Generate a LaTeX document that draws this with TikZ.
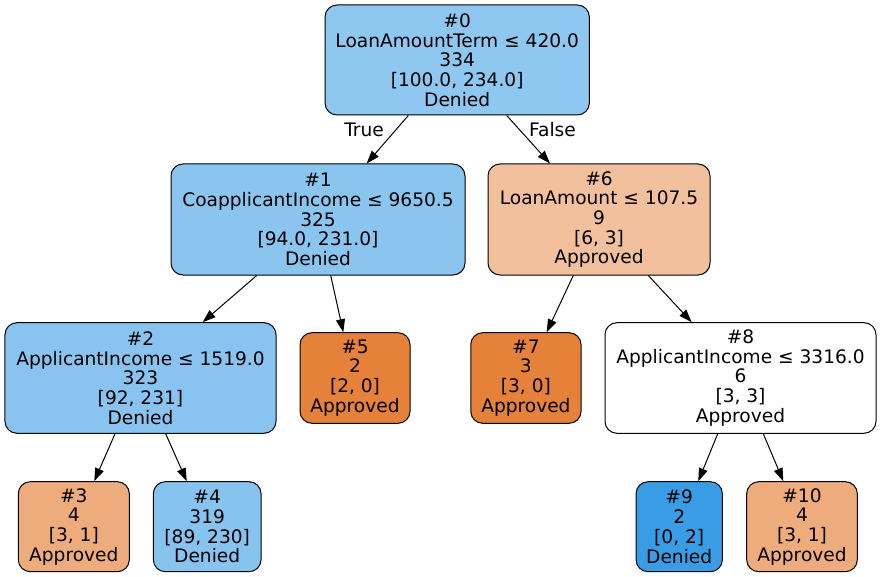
\documentclass[tikz,border=0pt]{standalone}
\usepackage{fontspec}
\setmainfont{DejaVu Sans}
\usetikzlibrary{arrows.meta}
\definecolor{cA}{RGB}{142,199,240}
\definecolor{cB}{RGB}{138,197,240}
\definecolor{cC}{RGB}{136,196,239}
\definecolor{cD}{RGB}{134,195,239}
\definecolor{cE}{RGB}{242,192,156}
\definecolor{cF}{RGB}{238,171,123}
\definecolor{cOr}{RGB}{229,129,57}
\definecolor{cBl}{RGB}{57,157,229}
\tikzset{
  treenode/.style={draw=black, line width=1bp, rounded corners=12bp, inner sep=0pt,
    align=center, font=\fontsize{18.6bp}{19.7bp}\selectfont},
  edgelbl/.style={inner sep=0pt, font=\fontsize{18.6bp}{19.7bp}\selectfont},
  treeedge/.style={line width=1bp, -{Triangle[length=13bp,width=9bp]}}
}
\begin{document}
\begin{tikzpicture}[x=1bp,y=-1bp]
\useasboundingbox (0,0) rectangle (881,577);
\node[treenode, fill=cA, minimum width=264.3bp, minimum height=110bp] (n0) at (457.2,60)
  {\#0\\LoanAmountTerm ≤ 420.0\\334\\{[}100.0, 234.0{]}\\Denied};
\node[treenode, fill=cB, minimum width=294bp, minimum height=111bp] (n1) at (318,219.5)
  {\#1\\CoapplicantIncome ≤ 9650.5\\325\\{[}94.0, 231.0{]}\\Denied};
\node[treenode, fill=cE, minimum width=222bp, minimum height=111bp] (n6) at (599,219.5)
  {\#6\\LoanAmount ≤ 107.5\\9\\{[}6, 3{]}\\Approved};
\node[treenode, fill=cC, minimum width=271bp, minimum height=110.6bp] (n2) at (140.5,378)
  {\#2\\ApplicantIncome ≤ 1519.0\\323\\{[}92, 231{]}\\Denied};
\node[treenode, fill=cOr, minimum width=110bp, minimum height=90.6bp] (n5) at (355,378)
  {\#5\\2\\{[}2, 0{]}\\Approved};
\node[treenode, fill=cOr, minimum width=110.3bp, minimum height=90.6bp] (n7) at (525.9,378)
  {\#7\\3\\{[}3, 0{]}\\Approved};
\node[treenode, fill=white, minimum width=271bp, minimum height=110.6bp] (n8) at (740.5,378)
  {\#8\\ApplicantIncome ≤ 3316.0\\6\\{[}3, 3{]}\\Approved};
\node[treenode, fill=cF, minimum width=111bp, minimum height=90bp] (n3) at (73.8,526.7)
  {\#3\\4\\{[}3, 1{]}\\Approved};
\node[treenode, fill=cD, minimum width=107.7bp, minimum height=90bp] (n4) at (207.2,526.7)
  {\#4\\319\\{[}89, 230{]}\\Denied};
\node[treenode, fill=cBl, minimum width=86.3bp, minimum height=90bp] (n9) at (679.2,526.7)
  {\#9\\2\\{[}0, 2{]}\\Denied};
\node[treenode, fill=cF, minimum width=110.6bp, minimum height=90bp] (n10) at (802,526.7)
  {\#10\\4\\{[}3, 1{]}\\Approved};
\draw[treeedge] ([xshift=-48.9bp]n0.south) -- ([xshift=48.7bp]n1.north);
\draw[treeedge] ([xshift=49.5bp]n0.south) -- ([xshift=-49bp]n6.north);
\draw[treeedge] ([xshift=-61.3bp]n1.south) -- ([xshift=62.2bp]n2.north);
\draw[treeedge] ([xshift=12.7bp]n1.south) -- ([xshift=-11.7bp]n5.north);
\draw[treeedge] ([xshift=-25.5bp]n2.south) -- ([xshift=20.5bp]n3.north);
\draw[treeedge] ([xshift=25.2bp]n2.south) -- ([xshift=-20.5bp]n4.north);
\draw[treeedge] ([xshift=-25.7bp]n6.south) -- ([xshift=20.8bp]n7.north);
\draw[treeedge] ([xshift=49.3bp]n6.south) -- ([xshift=-48.8bp]n8.north);
\draw[treeedge] ([xshift=-22.8bp]n8.south) -- ([xshift=19.1bp]n9.north);
\draw[treeedge] ([xshift=22.8bp]n8.south) -- ([xshift=-18.7bp]n10.north);
\node[edgelbl] (lt) at (364,130) {True};
\node[edgelbl] (lf) at (552.5,130) {False};
\end{tikzpicture}
\end{document}
